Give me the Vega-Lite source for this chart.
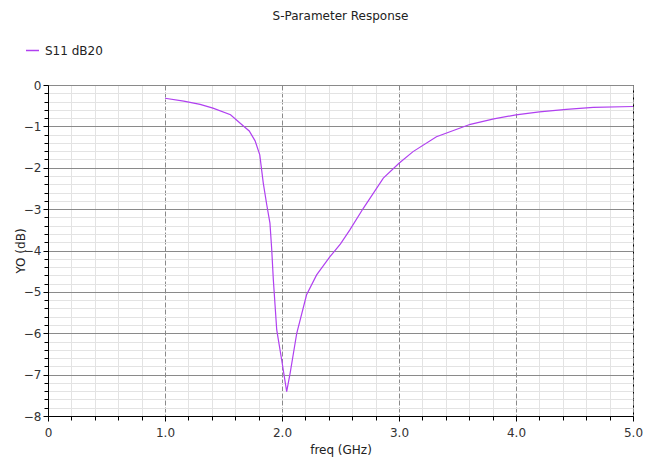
{
  "$schema": "https://vega.github.io/schema/vega-lite/v6.json",
  "width": 585,
  "height": 331,
  "autosize": "none",
  "padding": {"left": 48, "top": 85, "right": 13, "bottom": 43},
  "background": "white",
  "title": {
    "text": "S-Parameter Response",
    "anchor": "middle",
    "font": "DejaVu Sans",
    "fontSize": 12,
    "fontWeight": "normal",
    "color": "#222222",
    "offset": 20
  },
  "config": {
    "view": {"stroke": "#000000", "strokeWidth": 1},
    "axis": {"labelFont": "DejaVu Sans", "titleFont": "DejaVu Sans", "labelFontSize": 12, "titleFontSize": 12, "titleFontWeight": "normal", "labelColor": "#333333", "titleColor": "#222222", "labelFlush": false, "labelOverlap": false}
  },
  "data": {
    "values": [
      {"f": 1.0, "v": -0.32, "s": "S11 dB20"},
      {"f": 1.16, "v": -0.39, "s": "S11 dB20"},
      {"f": 1.3, "v": -0.47, "s": "S11 dB20"},
      {"f": 1.41, "v": -0.56, "s": "S11 dB20"},
      {"f": 1.56, "v": -0.72, "s": "S11 dB20"},
      {"f": 1.67, "v": -0.99, "s": "S11 dB20"},
      {"f": 1.72, "v": -1.11, "s": "S11 dB20"},
      {"f": 1.77, "v": -1.35, "s": "S11 dB20"},
      {"f": 1.81, "v": -1.69, "s": "S11 dB20"},
      {"f": 1.84, "v": -2.37, "s": "S11 dB20"},
      {"f": 1.87, "v": -2.9, "s": "S11 dB20"},
      {"f": 1.897, "v": -3.34, "s": "S11 dB20"},
      {"f": 1.912, "v": -3.97, "s": "S11 dB20"},
      {"f": 1.926, "v": -4.71, "s": "S11 dB20"},
      {"f": 1.955, "v": -5.92, "s": "S11 dB20"},
      {"f": 1.997, "v": -6.64, "s": "S11 dB20"},
      {"f": 2.04, "v": -7.41, "s": "S11 dB20"},
      {"f": 2.07, "v": -6.96, "s": "S11 dB20"},
      {"f": 2.126, "v": -6.0, "s": "S11 dB20"},
      {"f": 2.21, "v": -5.07, "s": "S11 dB20"},
      {"f": 2.296, "v": -4.59, "s": "S11 dB20"},
      {"f": 2.41, "v": -4.15, "s": "S11 dB20"},
      {"f": 2.5, "v": -3.84, "s": "S11 dB20"},
      {"f": 2.58, "v": -3.5, "s": "S11 dB20"},
      {"f": 2.695, "v": -2.98, "s": "S11 dB20"},
      {"f": 2.866, "v": -2.25, "s": "S11 dB20"},
      {"f": 3.0, "v": -1.89, "s": "S11 dB20"},
      {"f": 3.12, "v": -1.61, "s": "S11 dB20"},
      {"f": 3.32, "v": -1.25, "s": "S11 dB20"},
      {"f": 3.61, "v": -0.95, "s": "S11 dB20"},
      {"f": 3.81, "v": -0.82, "s": "S11 dB20"},
      {"f": 4.0, "v": -0.72, "s": "S11 dB20"},
      {"f": 4.2, "v": -0.65, "s": "S11 dB20"},
      {"f": 4.43, "v": -0.59, "s": "S11 dB20"},
      {"f": 4.66, "v": -0.54, "s": "S11 dB20"},
      {"f": 5.0, "v": -0.52, "s": "S11 dB20"}
    ]
  },
  "resolve": {"axis": {"x": "independent", "y": "independent"}},
  "layer": [
    {
      "mark": {"type": "line", "opacity": 0},
      "encoding": {
        "x": {"field": "f", "type": "quantitative", "scale": {"domain": [0, 5], "nice": false, "zero": false},
          "axis": {"orient": "bottom", "values": [0.2,0.4,0.6,0.8,1.2,1.4,1.6,1.8,2.2,2.4,2.6,2.8,3.2,3.4,3.6,3.8,4.2,4.4,4.6,4.8], "grid": true, "gridColor": "#e3e3e3", "gridWidth": 1, "labels": false, "domain": false, "ticks": true, "tickSize": 4, "tickColor": "#000000", "title": null}},
        "y": {"field": "v", "type": "quantitative", "scale": {"domain": [-8, 0], "nice": false, "zero": false},
          "axis": {"orient": "left", "values": [-7.8,-7.6,-7.4,-7.2,-6.8,-6.6,-6.4,-6.2,-5.8,-5.6,-5.4,-5.2,-4.8,-4.6,-4.4,-4.2,-3.8,-3.6,-3.4,-3.2,-2.8,-2.6,-2.4,-2.2,-1.8,-1.6,-1.4,-1.2,-0.8,-0.6,-0.4,-0.2], "grid": true, "gridColor": "#e3e3e3", "gridWidth": 1, "labels": false, "domain": false, "ticks": true, "tickSize": 4, "tickColor": "#000000", "title": null}}
      }
    },
    {
      "mark": {"type": "line", "strokeWidth": 1.2},
      "encoding": {
        "x": {"field": "f", "type": "quantitative", "scale": {"domain": [0, 5], "nice": false, "zero": false},
          "axis": {"orient": "bottom", "values": [0,1,2,3,4,5], "grid": true, "gridColor": "#8a8a8a", "gridDash": [5, 2], "gridWidth": 1, "labelExpr": "datum.value == 0 ? '0' : format(datum.value, '.1f')", "labelPadding": 6, "domain": true, "domainColor": "#000000", "ticks": true, "tickSize": 5, "tickColor": "#000000", "title": "freq (GHz)", "titlePadding": 6}},
        "y": {"field": "v", "type": "quantitative", "scale": {"domain": [-8, 0], "nice": false, "zero": false},
          "axis": {"orient": "left", "values": [-8,-7,-6,-5,-4,-3,-2,-1,0], "grid": true, "gridColor": "#8a8a8a", "gridWidth": 1, "format": "d", "labelPadding": 2, "domain": true, "domainColor": "#000000", "ticks": true, "tickSize": 5, "tickColor": "#000000", "title": "YO (dB)", "titlePadding": -4}},
        "color": {"field": "s", "type": "nominal", "scale": {"range": ["#b040f0"]},
          "legend": {"title": null, "orient": "none", "legendX": -23, "legendY": -42, "symbolType": "stroke", "symbolSize": 169, "symbolStrokeWidth": 1.5, "labelFont": "DejaVu Sans", "labelFontSize": 12, "labelColor": "#222222", "labelOffset": 5}}
      }
    }
  ]
}
